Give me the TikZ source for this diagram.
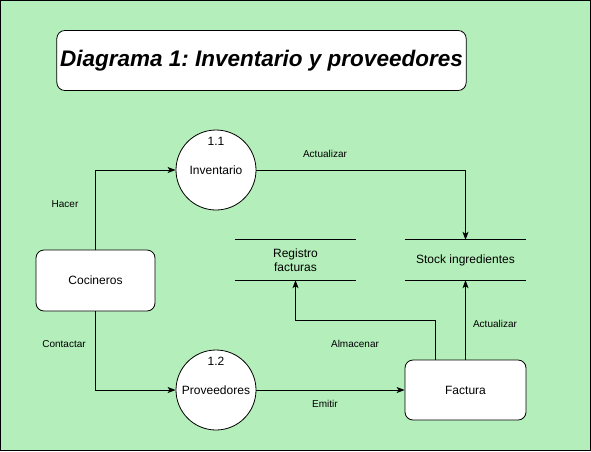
\documentclass[tikz,border=0pt]{standalone}
\usepackage{fontspec}
\setmainfont{Liberation Sans}
\usetikzlibrary{arrows.meta,shapes.geometric}
\definecolor{bg}{RGB}{180,238,186}
\frenchspacing
\begin{document}
\begin{tikzpicture}[x=1pt,y=-1pt,
  every node/.style={font=\fontsize{12}{14}\selectfont},
  box/.style={draw, fill=white, line width=0.8pt, rounded corners=8pt, align=center},
  proc/.style={draw, fill=white, circle, line width=0.8pt, minimum size=80pt, inner sep=0pt},
  store/.style={minimum width=121pt, minimum height=40pt, inner sep=0pt, align=center},
  arr/.style={line width=0.8pt, -{Stealth[length=8pt,width=6pt,inset=2pt]}},
  lbl/.style={font=\fontsize{10}{12}\selectfont, inner sep=0pt}]
\useasboundingbox (0,0) rectangle (591,451);
\draw[fill=bg, line width=1pt] (0.5,0.5) rectangle (590.5,450.5);
% title
\node[box, minimum width=407pt, minimum height=60pt, font=\fontsize{22.5}{26}\selectfont\bfseries\itshape] (title) at (261.5,60.5) {Diagrama 1: Inventario y proveedores};
% nodes
\node[box, minimum width=119pt, minimum height=61pt] (coc) at (95.5,280.5) {Cocineros};
\node[proc] (inv) at (216,170) {Inventario};
\node[proc] (prov) at (216,390) {Proveedores};
\node[inner sep=0pt] (n11) at (216,141) {1.1};
\node[inner sep=0pt] (n12) at (216,361) {1.2};
\node[store] (reg) at (295.5,260) {Registro\\facturas};
\node[store] (stock) at (465.5,260) {Stock ingredientes};
\node[box, minimum width=121pt, minimum height=60pt] (fac) at (465.5,390) {Factura};
\draw[line width=0.8pt] (reg.north west) -- (reg.north east) (reg.south west) -- (reg.south east);
\draw[line width=0.8pt] (stock.north west) -- (stock.north east) (stock.south west) -- (stock.south east);
% connectors
\draw[arr] (coc.north) |- (inv.west);
\draw[arr] (coc.south) |- (prov.west);
\draw[arr] (inv.east) -| (stock.north);
\draw[arr] (prov.east) -- (fac.west);
\draw[arr] (fac.north) -- (stock.south);
\draw[arr] ([xshift=-30pt]fac.north) |- ([yshift=-40pt]reg.south) -- (reg.south);
% labels
\node[lbl] (lhacer) at (65,204) {Hacer};
\node[lbl] (lcont) at (64,344) {Contactar};
\node[lbl] (lact1) at (325,154) {Actualizar};
\node[lbl] (lact2) at (495,324) {Actualizar};
\node[lbl] (lalm) at (355,344) {Almacenar};
\node[lbl] (lemi) at (325,404) {Emitir};
\end{tikzpicture}
\end{document}
